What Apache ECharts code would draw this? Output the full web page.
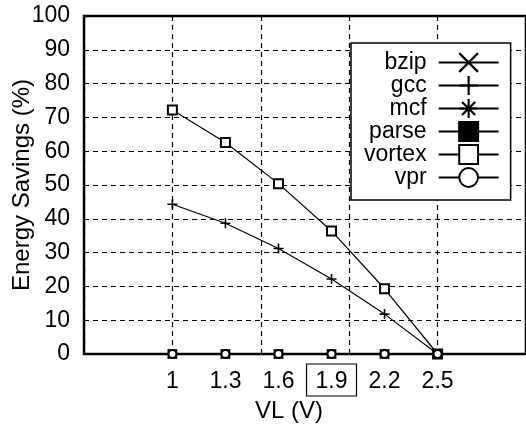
<!DOCTYPE html>
<html>
<head>
<meta charset="utf-8">
<script src="https://cdn.jsdelivr.net/npm/echarts@6/dist/echarts.min.js"></script>
<style>
  html, body { margin: 0; padding: 0; background: #fff; }
  #chart { width: 526px; height: 427px; }
</style>
</head>
<body>
<div id="chart"></div>
<script>
// VL (V) values at which savings were measured
let vl = [1, 1.3, 1.6, 1.9, 2.2, 2.5];
let xTicks = [1, 1.3, 1.6, 1.9, 2.2, 2.5];

let bzip = [0, 0, 0, 0, 0, 0];
let gcc = [44.3, 38.7, 31.2, 22.2, 11.8, 0];
let mcf = [0, 0, 0, 0, 0, 0];
let parse = [0, 0, 0, 0, 0, 0];
let vortex = [72.2, 62.6, 50.4, 36.4, 19.3, 0];
let vpr = [0, 0, 0, 0, 0, 0];

let names = ['bzip', 'gcc', 'mcf', 'parse', 'vortex', 'vpr'];
let values = [bzip, gcc, mcf, parse, vortex, vpr];

let font = "'Liberation Sans', Arial, Helvetica, sans-serif";

let symbols = {
    bzip: 'path://M0,0L20,20M20,0L0,20',
    gcc: 'path://M10,0L10,20M0,10L20,10',
    mcf: 'path://M10,0L10,20M0,10L20,10M3,3L17,17M17,3L3,17',
    parse: 'rect',
    vortex: 'emptyRect',
    vpr: 'emptyCircle'
};
let sizes = { bzip: 9, gcc: 10, mcf: 9, parse: 8, vortex: 9, vpr: 8 };

let chart = echarts.init(document.getElementById('chart'));

let series = names.map((n, i) => ({
    name: n,
    type: 'line',
    data: vl.map((x, j) => [x, values[i][j]]),
    symbol: symbols[n],
    symbolSize: sizes[n],
    showAllSymbol: true,
    lineStyle: { color: '#000', width: 1.2 },
    itemStyle: { color: '#000', borderColor: '#000', borderWidth: 1.6 },
    emphasis: { disabled: true },
    z: 3 + i
}));

let option = {
    animation: false,
    backgroundColor: '#fff',
    textStyle: { fontFamily: font, color: '#000' },
    grid: {
        left: 84, top: 16, right: 0, bottom: 73,
        outerBoundsMode: 'none',
        containLabel: false,
        show: true, borderColor: '#000', borderWidth: 2.5
    },
    xAxis: {
        type: 'value',
        min: 0.5, max: 3, interval: 0.5,
        name: 'VL (V)',
        nameLocation: 'middle',
        nameGap: 45,
        nameMoveOverlap: false,
        nameTextStyle: { fontSize: 24, color: '#000', fontFamily: font, padding: [0, 32, 0, 0] },
        axisLine: { show: false },
        axisTick: { show: false },
        axisLabel: {
            customValues: xTicks,
            margin: 10,
            formatter: v => v === 1.9 ? '{b|' + v + '}' : '{a|' + v + '}',
            rich: {
                a: { fontSize: 23, fontFamily: font, color: '#000', padding: [6, 9, 3, 9] },
                b: { fontSize: 23, fontFamily: font, color: '#000', padding: [6, 9, 3, 9],
                     borderColor: '#000', borderWidth: 1.2 }
            }
        },
        splitLine: { show: true, lineStyle: { color: '#000', width: 1.2, type: [5, 4] } }
    },
    yAxis: {
        type: 'value',
        min: 0, max: 100, interval: 10,
        name: 'Energy Savings (%)',
        nameLocation: 'middle',
        nameGap: 50,
        nameMoveOverlap: false,
        nameTextStyle: { fontSize: 24, color: '#000', fontFamily: font },
        axisLine: { show: false },
        axisTick: { show: false },
        axisLabel: { fontSize: 23, color: '#000', fontFamily: font, margin: 14 },
        splitLine: { show: true, lineStyle: { color: '#000', width: 1.2, type: [5, 4] } }
    },
    legend: {
        data: names,
        orient: 'vertical',
        align: 'right',
        left: 351,
        top: 43,
        itemWidth: 60,
        itemHeight: 23.5,
        itemGap: 0,
        padding: [8, 11, 11, 13],
        backgroundColor: '#fff',
        borderColor: '#000',
        borderWidth: 1.5,
        selectedMode: false,
        itemStyle: { borderWidth: 2.2 },
        textStyle: { fontSize: 23, color: '#000', fontFamily: font, lineHeight: 22, padding: [0, 7, 0, 0] },
        z: 10
    },
    series: series
};

chart.setOption(option);
</script>
</body>
</html>
